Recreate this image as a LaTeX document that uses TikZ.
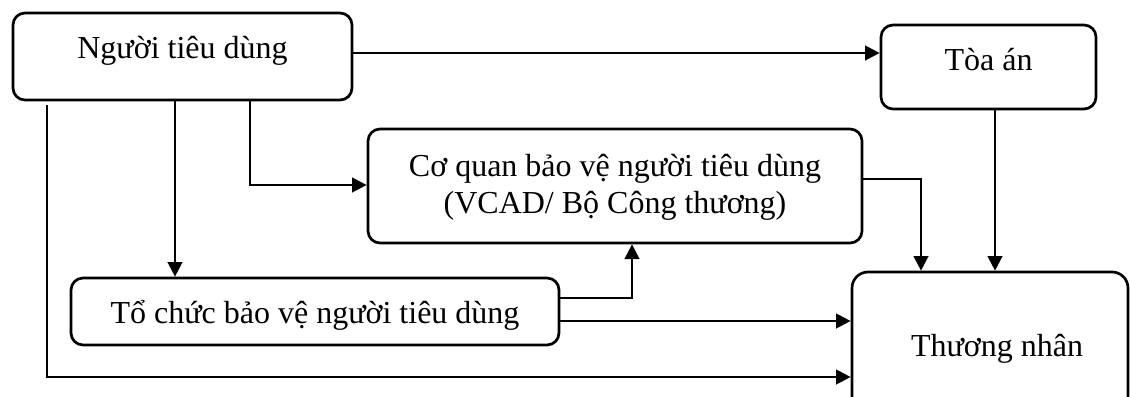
\documentclass[tikz,border=0pt]{standalone}
\usepackage{fontspec}
\setmainfont{Liberation Serif}
\usetikzlibrary{arrows.meta}
\begin{document}
\begin{tikzpicture}[x=0.75pt,y=-0.75pt,
  box/.style={draw, line width=2pt, rounded corners=9pt, inner sep=0pt},
  lbl/.style={inner sep=0pt, anchor=base, align=center, font=\fontsize{24}{27.75}\selectfont},
  arr/.style={line width=1.7pt, -{Triangle[length=11pt,width=11pt]}},
]
\useasboundingbox (0,0) rectangle (1130,396);
% boxes
\node[box, minimum width=254.25pt, minimum height=65.25pt] (A) at (182.5,56.5) {};
\node[box, minimum width=161.25pt, minimum height=63pt] (B) at (988.5,67) {};
\node[box, minimum width=370.5pt, minimum height=85.5pt] (C) at (615,186) {};
\node[box, minimum width=366pt, minimum height=50.25pt] (D) at (315,311.5) {};
\node[box, rounded corners=12pt, minimum width=207pt, minimum height=126pt] (E) at (990,356) {};
% texts
\node[lbl] (At) at (182.5,58) {Người tiêu dùng};
\node[lbl] (Bt) at (988.5,70) {Tòa án};
\node[lbl] (Ct) at (615,213) {Cơ quan bảo vệ người tiêu dùng\\(VCAD/ Bộ Công thương)};
\node[lbl] (Dt) at (315,323) {Tổ chức bảo vệ người tiêu dùng};
\node[lbl] (Et) at (997,356) {Thương nhân};
% connectors
\draw[arr] (A.east |- 0,53) -- (B.west |- 0,53);
\draw[arr] (A.south -| 175,0) -- (D.north -| 175,0);
\draw[arr] (A.south -| 250,0) |- (C.west |- 0,185);
\draw[arr] ([yshift=-3pt]A.south -| 47,0) |- (E.west |- 0,377);
\draw[arr] (C.east |- 0,179) -| (E.north -| 921,0);
\draw[arr] (B.south -| 995,0) -- (E.north -| 995,0);
\draw[arr] (D.east |- 0,298) -| (C.south -| 632,0);
\draw[arr] (D.east |- 0,321) -- (E.west |- 0,321);
\end{tikzpicture}
\end{document}
